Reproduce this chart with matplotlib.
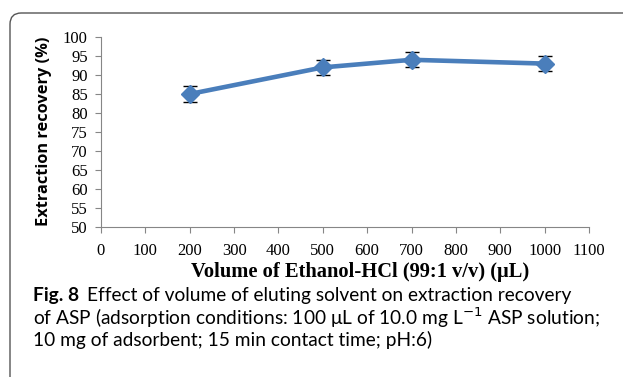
import matplotlib
matplotlib.use("Agg")
import matplotlib.pyplot as plt
from matplotlib.patches import FancyBboxPatch

# data
volume = [200, 500, 700, 1000]
recovery = [85, 92, 94, 93]
err = [2, 2, 2, 2]
xticks = list(range(0, 1101, 100))
yticks = list(range(50, 101, 5))

W, H = 623, 377
fig = plt.figure(figsize=(W/100, H/100), dpi=100)
ax = fig.add_axes([101/W, 1-227/H, (589-101)/W, (227-37)/H])

ax.errorbar(volume, recovery, yerr=err, color='#4a7ebb', lw=3.3, marker='D',
            ms=9, mec='#4a7ebb', ecolor='black', elinewidth=1, capsize=5,
            capthick=1, zorder=3)

ax.set_xlim(0, 1100)
ax.set_ylim(50, 100)
ax.set_xticks(xticks)
ax.set_yticks(yticks)
for s in ['top', 'right']:
    ax.spines[s].set_visible(False)
for s in ['left', 'bottom']:
    ax.spines[s].set_color('#868686')
    ax.spines[s].set_linewidth(0.8)
ax.tick_params(axis='both', direction='out', length=4, color='#868686',
               labelsize=12)
for lab in ax.get_xticklabels() + ax.get_yticklabels():
    lab.set_family('Liberation Serif')
ax.tick_params(axis='y', pad=5.5)
ax.tick_params(axis='x', pad=7.5)

# axis titles
fig.text(360/W, 1-272/H, 'Volume of Ethanol-HCl (99:1 v/v) (μL)',
         family='Liberation Serif', fontweight='bold', fontsize=14.8,
         ha='center', va='center')
fig.text(44/W, 1-131/H, 'Extraction recovery (%)', family='Open Sans',
         fontweight='bold', fontsize=11.8, rotation=90, ha='center', va='center')

# caption
fs = 13.8
fig.text(33/W, 1-296/H, 'Fig. 8', fontsize=fs, va='center',
         family='Lato', fontweight='bold')
fig.text(87/W, 1-296/H, 'Effect of volume of eluting solvent on extraction recovery',
         fontsize=fs, va='center', family='Lato')
fig.text(33/W, 1-318/H,
         'of ASP (adsorption conditions: 100 μL of 10.0 mg L$^{-1}$ ASP solution;',
         fontsize=fs, va='center', family='Lato')
fig.text(33/W, 1-340/H, '10 mg of adsorbent; 15 min contact time; pH:6)',
         fontsize=fs, va='center', family='Lato')

# rounded frame round the figure
box = FancyBboxPatch((10/W, -0.1), 1.2, 1-13/H+0.1,
                     boxstyle='round,pad=0,rounding_size=0.018',
                     transform=fig.transFigure, fill=False, ec='#555555',
                     lw=1.0, mutation_aspect=W/H)
fig.patches.append(box)

fig.savefig('out.png', dpi=100)
